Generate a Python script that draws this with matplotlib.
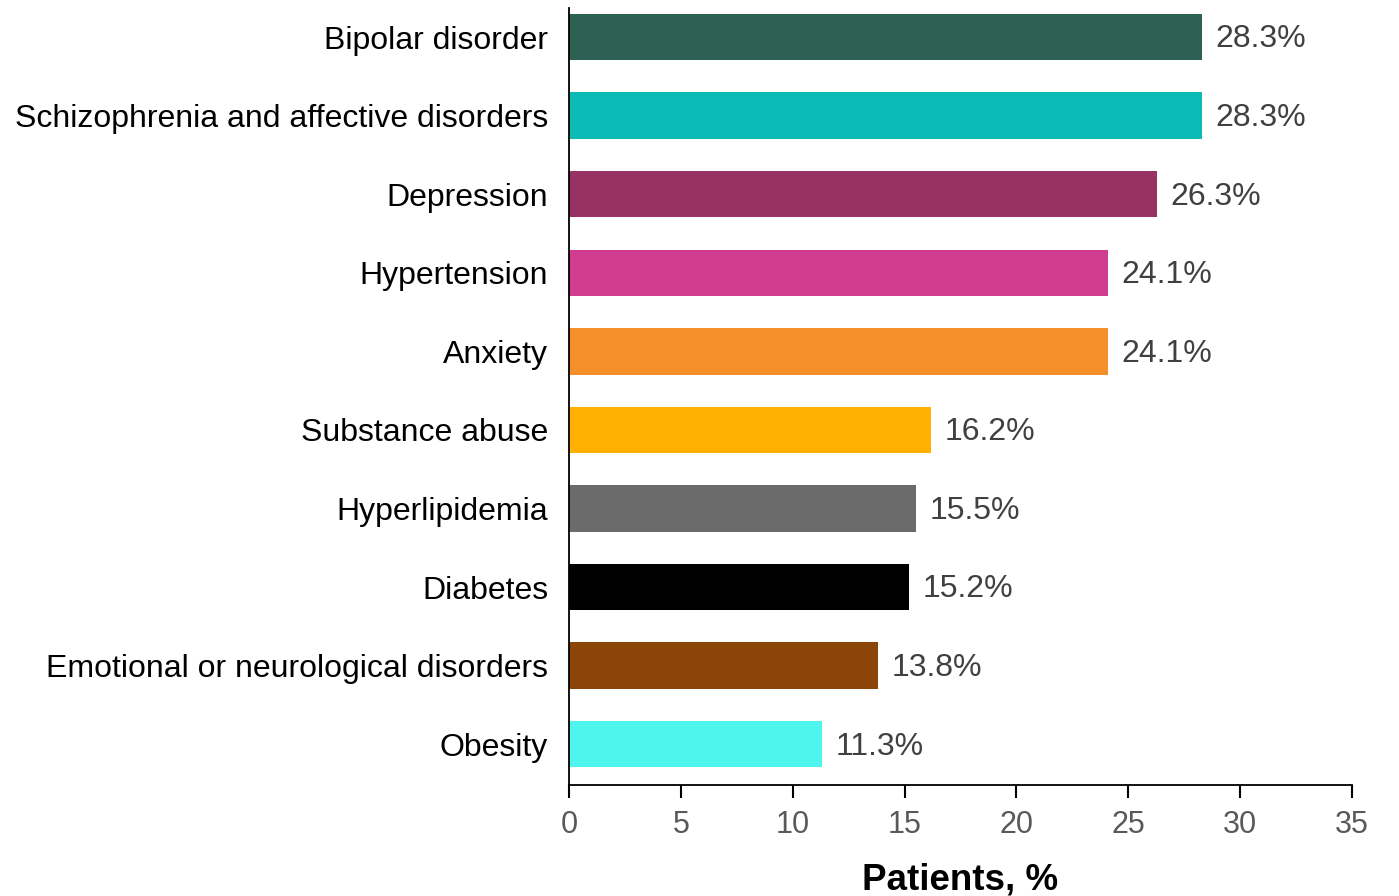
import matplotlib.pyplot as plt

plt.rcParams['font.family'] = ['Liberation Sans', 'DejaVu Sans']

categories = ['Bipolar disorder', 'Schizophrenia and affective disorders', 'Depression',
              'Hypertension', 'Anxiety', 'Substance abuse', 'Hyperlipidemia', 'Diabetes',
              'Emotional or neurological disorders', 'Obesity']
values = [28.3, 28.3, 26.3, 24.1, 24.1, 16.2, 15.5, 15.2, 13.8, 11.3]
labels = ['28.3%', '28.3%', '26.3%', '24.1%', '24.1%', '16.2%', '15.5%', '15.2%', '13.8%', '11.3%']
colors = ['#2C6153', '#0DBBB6', '#983262', '#D13C91', '#F58F2A', '#FFB000',
          '#6B6B6B', '#000000', '#8B4506', '#4EF4EE']
x_ticks = [0, 5, 10, 15, 20, 25, 30, 35]

fig = plt.figure(figsize=(13.99, 8.96), dpi=100)
ax = fig.add_axes([569 / 1399, 111 / 896, 783 / 1399, 777 / 896])

# plot top-down: first category at top
pos = list(range(len(categories)))[::-1]
ax.barh(pos, values, height=0.59, color=colors)
for p, v, lab in zip(pos, values, labels):
    ax.text(v + 0.6, p - 0.03, lab, va='center', ha='left', fontsize=23, color='#404040')

ax.set_yticks(pos)
ax.set_yticklabels(categories, fontsize=23, color='black')
ax.tick_params(axis='y', length=0, pad=15)
ax.set_xticks(x_ticks)
ax.tick_params(axis='x', length=9, width=1.5, labelsize=22, labelcolor='#595959', pad=9)
ax.set_xlim(0, 35)
ax.set_ylim(-0.52, 9.37)

ax.spines['top'].set_visible(False)
ax.spines['right'].set_visible(False)
for s in ('left', 'bottom'):
    ax.spines[s].set_linewidth(1.3)

ax.set_xlabel('Patients, %', fontsize=26.5, fontweight='bold', labelpad=16)

fig.savefig('out.png', dpi=100)
